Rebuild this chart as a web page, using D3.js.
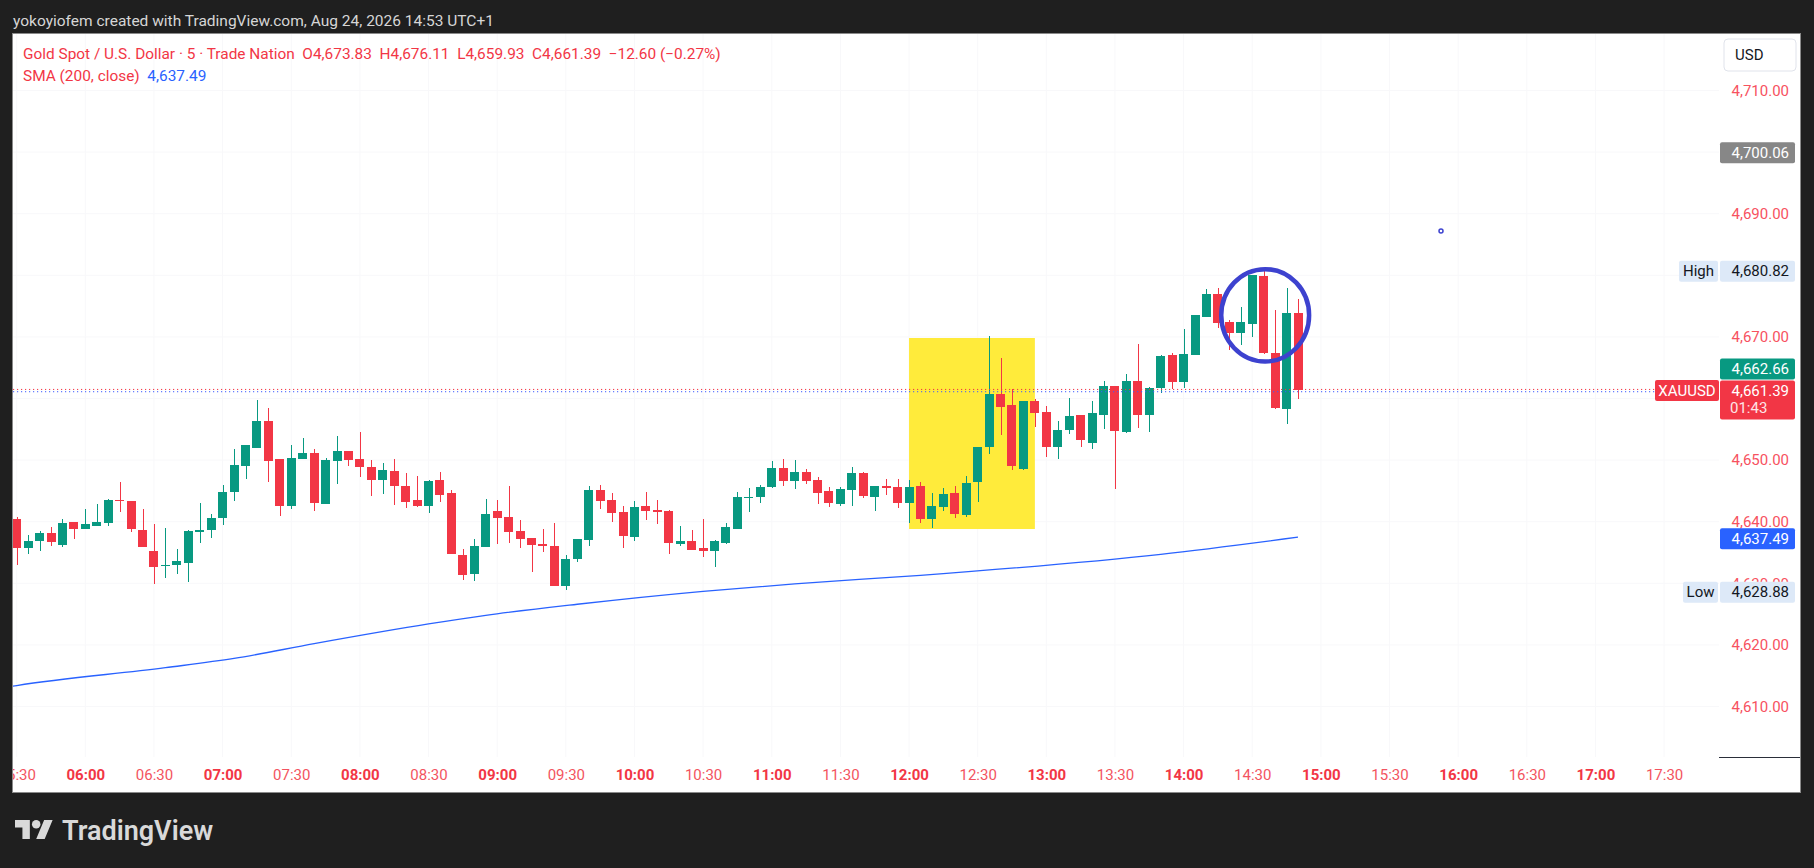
<!DOCTYPE html>
<html>
<head>
<meta charset="utf-8">
<script src="https://cdn.jsdelivr.net/npm/d3@7/dist/d3.min.js"></script>
<style>
  html, body { margin: 0; padding: 0; background: #1f1f1f; }
  svg { display: block; font-family: Roboto, "Noto Sans", sans-serif; }
  .pre { white-space: pre; }
</style>
</head>
<body>
<svg id="chart" width="1814" height="868"></svg>
<script>
/* XAUUSD 5m — TradingView snapshot redrawn with D3 */

const firstCandle = '05:30';           // one candle every 5 minutes
const candleMinutes = 5;

// [open, high, low, close]
const ohlc = [
  [4640.47, 4640.69, 4633.02, 4635.66], [4635.66, 4637.88, 4634.69, 4636.91],
  [4636.80, 4638.53, 4635.18, 4638.20], [4638.20, 4639.18, 4635.99, 4636.64],
  [4636.15, 4640.47, 4635.83, 4639.82], [4639.99, 4639.99, 4637.12, 4638.74],
  [4638.74, 4642.09, 4638.74, 4639.66], [4639.23, 4642.90, 4639.23, 4639.99],
  [4639.72, 4643.71, 4639.23, 4643.55], [4643.55, 4646.47, 4641.50, 4643.28],
  [4643.39, 4643.39, 4638.26, 4638.74], [4638.69, 4642.09, 4635.83, 4635.83],
  [4635.29, 4639.66, 4629.83, 4632.58], [4632.75, 4639.01, 4630.80, 4633.02],
  [4632.91, 4635.61, 4631.45, 4633.66], [4633.23, 4638.69, 4630.15, 4638.53],
  [4638.26, 4643.06, 4636.47, 4638.69], [4638.58, 4641.28, 4637.28, 4640.63],
  [4640.53, 4645.98, 4639.39, 4644.85], [4644.74, 4651.82, 4643.28, 4649.22],
  [4649.12, 4652.47, 4647.01, 4652.47], [4652.03, 4659.76, 4652.03, 4656.35],
  [4656.35, 4658.46, 4646.52, 4649.93], [4650.20, 4650.20, 4640.96, 4642.47],
  [4642.58, 4652.47, 4642.09, 4650.36], [4650.20, 4653.60, 4650.20, 4651.17],
  [4651.17, 4651.82, 4641.77, 4643.06], [4642.90, 4650.36, 4642.90, 4650.03],
  [4649.87, 4653.92, 4646.14, 4651.49], [4651.49, 4651.49, 4649.06, 4650.03],
  [4650.20, 4654.57, 4647.28, 4648.90], [4648.90, 4650.03, 4644.20, 4646.79],
  [4646.79, 4649.55, 4644.52, 4648.41], [4648.25, 4650.20, 4642.74, 4645.82],
  [4645.82, 4647.93, 4642.25, 4643.23], [4643.55, 4647.44, 4642.42, 4642.58],
  [4642.58, 4646.79, 4641.44, 4646.63], [4646.79, 4648.09, 4643.23, 4644.36],
  [4644.69, 4645.17, 4634.80, 4634.80], [4634.64, 4635.61, 4630.59, 4631.40],
  [4631.56, 4637.23, 4630.42, 4636.10], [4635.93, 4643.71, 4635.93, 4641.28],
  [4641.77, 4643.55, 4636.42, 4640.63], [4640.79, 4645.82, 4636.58, 4638.36],
  [4638.53, 4640.31, 4635.77, 4637.23], [4637.39, 4637.39, 4631.88, 4636.15],
  [4636.42, 4638.85, 4635.12, 4635.99], [4636.10, 4639.82, 4629.50, 4629.50],
  [4629.50, 4634.64, 4628.88, 4633.99], [4633.99, 4637.23, 4633.50, 4637.23],
  [4637.07, 4645.82, 4636.10, 4645.17], [4645.17, 4645.98, 4642.09, 4643.39],
  [4643.55, 4644.69, 4639.99, 4641.44], [4641.61, 4642.58, 4635.77, 4637.72],
  [4637.55, 4643.39, 4636.91, 4642.42], [4642.58, 4644.85, 4640.31, 4641.77],
  [4641.93, 4643.55, 4639.66, 4641.61], [4641.77, 4641.93, 4634.80, 4636.58],
  [4636.42, 4639.34, 4636.10, 4636.91], [4636.91, 4638.69, 4635.45, 4635.45],
  [4635.77, 4640.47, 4634.31, 4635.29], [4635.29, 4637.07, 4632.69, 4636.91],
  [4636.58, 4639.82, 4636.42, 4639.18], [4638.85, 4644.85, 4638.85, 4644.04],
  [4643.88, 4645.50, 4641.61, 4644.04], [4644.04, 4645.98, 4643.06, 4645.66],
  [4645.66, 4649.87, 4645.50, 4648.74], [4648.74, 4650.20, 4645.82, 4646.63],
  [4646.67, 4650.02, 4645.37, 4648.07], [4648.07, 4648.56, 4646.18, 4646.67],
  [4646.78, 4647.26, 4642.93, 4644.72], [4644.99, 4645.64, 4642.45, 4643.10],
  [4642.93, 4645.64, 4642.61, 4645.31], [4645.21, 4648.89, 4642.61, 4647.91],
  [4647.91, 4648.07, 4643.91, 4644.23], [4644.07, 4645.80, 4641.80, 4645.80],
  [4645.80, 4646.94, 4644.40, 4645.53], [4645.64, 4646.94, 4642.28, 4643.10],
  [4643.10, 4646.78, 4639.85, 4645.64], [4645.80, 4646.45, 4639.85, 4640.50],
  [4640.50, 4644.67, 4639.04, 4642.56], [4642.45, 4645.48, 4641.80, 4644.50],
  [4644.67, 4645.80, 4640.66, 4641.31], [4641.15, 4647.43, 4640.82, 4646.29],
  [4646.45, 4652.13, 4643.26, 4652.13], [4652.19, 4670.15, 4651.05, 4660.74],
  [4660.74, 4666.58, 4654.14, 4658.68], [4658.95, 4661.55, 4648.45, 4649.10],
  [4648.62, 4659.60, 4648.45, 4659.60], [4659.60, 4659.93, 4655.43, 4657.71],
  [4657.81, 4658.79, 4650.56, 4652.19], [4652.18, 4656.35, 4650.24, 4654.89],
  [4654.89, 4660.08, 4654.29, 4657.16], [4657.32, 4657.32, 4652.18, 4653.27],
  [4652.83, 4659.60, 4651.86, 4657.65], [4657.38, 4662.84, 4655.11, 4662.03],
  [4662.03, 4662.03, 4645.24, 4654.78], [4654.62, 4663.98, 4654.46, 4662.84],
  [4662.84, 4668.85, 4655.27, 4657.38], [4657.38, 4661.87, 4654.62, 4661.71],
  [4661.76, 4667.06, 4660.95, 4666.90], [4667.06, 4667.39, 4661.60, 4662.74],
  [4662.74, 4671.29, 4661.76, 4667.23], [4667.12, 4673.56, 4667.12, 4673.56],
  [4673.29, 4677.78, 4673.29, 4676.97], [4676.97, 4677.94, 4671.50, 4672.31],
  [4672.42, 4672.75, 4667.93, 4670.69], [4670.69, 4674.86, 4668.74, 4672.42],
  [4672.15, 4680.05, 4670.04, 4680.05], [4679.89, 4680.82, 4667.28, 4667.44],
  [4667.39, 4674.37, 4658.35, 4658.51], [4658.35, 4677.94, 4655.92, 4673.88],
  [4673.83, 4676.11, 4659.93, 4661.39]
];

// SMA(200) read at a handful of candles: [candle index, value]
const smaPoints = [
  [-1, 4613.1], [0, 4613.4], [13, 4616.3], [19, 4617.8], [26, 4620.2],
  [36, 4623.4], [41, 4624.8], [49, 4626.6], [60, 4628.7], [68, 4629.9],
  [79, 4631.3], [100, 4634.7], [112, 4637.49]
];

// price scale labels (the ones hidden behind badges are left out)
const priceTicks = [4610, 4620, 4630, 4640, 4650, 4670, 4690, 4710];
const gridPrices = [4610, 4620, 4630, 4640, 4650, 4660, 4670, 4680, 4690, 4700, 4710];
const timeTicks = ['05:30', '06:00', '06:30', '07:00', '07:30', '08:00', '08:30', '09:00',
  '09:30', '10:00', '10:30', '11:00', '11:30', '12:00', '12:30', '13:00', '13:30',
  '14:00', '14:30', '15:00', '15:30', '16:00', '16:30', '17:00', '17:30'];

const symbolTitle = 'Gold Spot / U.S. Dollar · 5 · Trade Nation';
const snapshotCaption = 'yokoyiofem created with TradingView.com, Aug 24, 2026 14:53 UTC+1';
const prevClose = 4673.99;
const smaLast = 4637.49;
const askPrice = 4662.66;
const markerPrice = 4700.06;
const dayHigh = 4680.82;
const dayLow = 4628.88;
const countdown = '01:43';

// drawings on the chart
const boxFrom = '12:00', boxTo = '12:55', boxLow = 4638.81, boxHigh = 4669.82;
const ringTime = '14:35', ringPrice = 4673.5, ringMinutes = 19.2, ringPriceSpan = 7.5;
const dotTime = '15:52:30', dotPrice = 4687.19;

// ---------- layout ----------
const svg = d3.select('#chart');
const plot = { left: 13, right: 1719, top: 34, bottom: 757 };
const frame = { left: 12.5, top: 33.5, right: 1800.5, bottom: 792.5 };
const UP = '#089981', DOWN = '#f23645';

const day = s => {
  const [h, m, sec] = s.split(':').map(Number);
  return new Date(2026, 7, 24, h, m, sec || 0);
};
const addMin = (d, m) => new Date(d.getTime() + m * 60000);
const t0 = day(firstCandle);

const x = d3.scaleTime()
  .domain([day('05:28:23'), day('17:54:00')])
  .range([plot.left, plot.right]);
const y = d3.scaleLinear()
  .domain([4601.80, 4719.17])
  .range([plot.bottom, plot.top]);

const candles = ohlc.map(([o, h, l, c], i) => ({ t: addMin(t0, i * candleMinutes), o, h, l, c }));
const step = x(addMin(t0, candleMinutes)) - x(t0);
const bodyW = Math.round(step * 0.78);
const fmt = d3.format(',.2f');

// white chart frame
svg.append('rect')
  .attr('x', frame.left).attr('y', frame.top)
  .attr('width', frame.right - frame.left).attr('height', frame.bottom - frame.top)
  .attr('fill', '#fff').attr('stroke', '#8a8a8a');

const defs = svg.append('defs');
defs.append('clipPath').attr('id', 'plotClip')
  .append('rect')
  .attr('x', plot.left).attr('y', plot.top)
  .attr('width', plot.right - plot.left).attr('height', plot.bottom - plot.top);
defs.append('clipPath').attr('id', 'timeClip')
  .append('rect').attr('x', plot.left).attr('y', plot.bottom)
  .attr('width', plot.right - plot.left).attr('height', 35);

const g = svg.append('g').attr('clip-path', 'url(#plotClip)');

// faint grid
g.selectAll('line.vgrid').data(timeTicks).enter().append('line')
  .attr('x1', d => x(day(d))).attr('x2', d => x(day(d)))
  .attr('y1', plot.top).attr('y2', plot.bottom)
  .attr('stroke', '#f8f8fa');
g.selectAll('line.hgrid').data(gridPrices).enter().append('line')
  .attr('x1', plot.left).attr('x2', plot.right)
  .attr('y1', d => y(d)).attr('y2', d => y(d))
  .attr('stroke', '#f8f8fa');

// yellow highlight box
g.append('rect')
  .attr('x', x(day(boxFrom))).attr('y', y(boxHigh))
  .attr('width', x(day(boxTo)) - x(day(boxFrom)))
  .attr('height', y(boxLow) - y(boxHigh))
  .attr('fill', '#ffeb3b');

// SMA line
g.append('path')
  .datum(smaPoints)
  .attr('fill', 'none').attr('stroke', '#2962ff').attr('stroke-width', 1.3)
  .attr('d', d3.line()
    .curve(d3.curveMonotoneX)
    .x(d => x(addMin(t0, d[0] * candleMinutes)))
    .y(d => y(d[1])));

// candles
const cg = g.append('g').attr('shape-rendering', 'crispEdges');
const cs = cg.selectAll('g.candle').data(candles).enter().append('g')
  .attr('fill', d => d.c >= d.o ? UP : DOWN);
cs.append('rect')
  .attr('x', d => Math.round(x(d.t)) - 0.5).attr('width', 1)
  .attr('y', d => y(d.h)).attr('height', d => Math.max(1, y(d.l) - y(d.h)));
cs.append('rect')
  .attr('x', d => Math.round(x(d.t) - bodyW / 2))
  .attr('width', bodyW)
  .attr('y', d => y(Math.max(d.o, d.c)))
  .attr('height', d => Math.max(1, Math.abs(y(d.o) - y(d.c))));

// last price dotted lines
const last = candles[candles.length - 1];
const yLast = y(last.c);
g.append('line')
  .attr('x1', plot.left).attr('x2', 1655)
  .attr('y1', yLast - 0.5).attr('y2', yLast - 0.5)
  .attr('stroke', DOWN).attr('stroke-dasharray', '1.2 2.8');
g.append('line')
  .attr('x1', plot.left).attr('x2', 1655)
  .attr('y1', yLast + 1.8).attr('y2', yLast + 1.8)
  .attr('stroke', '#3d5afe').attr('stroke-dasharray', '1.2 2.8');

// circle drawing
g.append('ellipse')
  .attr('cx', x(day(ringTime)) + 1.5).attr('cy', y(ringPrice))
  .attr('rx', x(addMin(day(ringTime), ringMinutes)) - x(day(ringTime)))
  .attr('ry', y(ringPrice - ringPriceSpan) - y(ringPrice))
  .attr('fill', 'none').attr('stroke', '#3d42cf').attr('stroke-width', 4.5);

// small point drawing
g.append('circle')
  .attr('cx', x(day(dotTime))).attr('cy', y(dotPrice)).attr('r', 2)
  .attr('fill', '#fff').attr('stroke', '#3d42cf').attr('stroke-width', 1.5);

// ---------- price axis ----------
const pa = svg.append('g');
pa.selectAll('text.ptick').data(priceTicks).enter().append('text')
  .attr('x', 1789).attr('y', d => y(d))
  .attr('dy', '0.35em').attr('text-anchor', 'end')
  .attr('font-size', 15).attr('fill', '#f7525f')
  .text(d => fmt(d));

function badge(text, bg, fg, cy, h) {
  const top = cy - h / 2;
  pa.append('rect').attr('x', 1720).attr('y', top).attr('width', 75).attr('height', h)
    .attr('rx', 2).attr('fill', bg);
  pa.append('text').attr('x', 1789).attr('y', top + 10.5).attr('dy', '0.35em')
    .attr('text-anchor', 'end').attr('font-size', 15).attr('fill', fg).text(text);
}
function tag(text, x0, x1, cy, bg, fg) {
  pa.append('rect').attr('x', x0).attr('y', cy - 10.5).attr('width', x1 - x0).attr('height', 21)
    .attr('rx', 2).attr('fill', bg);
  pa.append('text').attr('x', (x0 + x1) / 2).attr('y', cy).attr('dy', '0.35em')
    .attr('text-anchor', 'middle').attr('font-size', 15).attr('fill', fg).text(text);
}

badge(fmt(markerPrice), '#878787', '#fff', y(markerPrice) + 1, 21);
tag('High', 1679, 1718, y(dayHigh) + 1, '#dde9f8', '#131722');
badge(fmt(dayHigh), '#dde9f8', '#131722', y(dayHigh) + 1, 21);
tag('Low', 1683, 1718, y(dayLow) + 2, '#dde9f8', '#131722');
badge(fmt(dayLow), '#dde9f8', '#131722', y(dayLow) + 2, 21);
badge(fmt(smaLast), '#2962ff', '#fff', y(smaLast) + 1.5, 21);

// last price + countdown, ask above it
const redTop = yLast - 9.5;
pa.append('rect').attr('x', 1720).attr('y', redTop).attr('width', 75).attr('height', 39)
  .attr('rx', 2).attr('fill', DOWN);
pa.append('text').attr('x', 1789).attr('y', yLast + 0.5).attr('dy', '0.35em')
  .attr('text-anchor', 'end').attr('font-size', 15).attr('fill', '#fff').text(fmt(last.c));
pa.append('text').attr('x', 1730).attr('y', yLast + 18).attr('dy', '0.35em')
  .attr('font-size', 15).attr('fill', '#fde4e6').text(countdown);
badge(fmt(askPrice), UP, '#fff', redTop - 11.5, 21);
tag('XAUUSD', 1655, 1719, yLast + 0.5, DOWN, '#fff');

// USD button
pa.append('rect').attr('x', 1724).attr('y', 39).attr('width', 72).attr('height', 32)
  .attr('rx', 4).attr('fill', '#fff').attr('stroke', '#e0e3eb');
pa.append('text').attr('x', 1735).attr('y', 55).attr('dy', '0.35em')
  .attr('font-size', 15).attr('fill', '#131722').text('USD');

// ---------- time axis ----------
svg.append('line').attr('x1', 1719).attr('x2', 1800).attr('y1', 757.5).attr('y2', 757.5)
  .attr('stroke', '#2a2e39');

const ta = svg.append('g').attr('clip-path', 'url(#timeClip)')
  .append('g')
  .attr('transform', `translate(0,${plot.bottom})`)
  .call(d3.axisBottom(x)
    .tickValues(timeTicks.map(day))
    .tickFormat(d3.timeFormat('%H:%M'))
    .tickSize(0));
ta.select('.domain').remove();
ta.selectAll('text')
  .attr('y', 18).attr('dy', '0.35em')
  .attr('font-family', 'Roboto, "Noto Sans", sans-serif')
  .attr('font-size', 15)
  .attr('fill', '#f23645')
  .attr('font-weight', d => d.getMinutes() === 0 ? 700 : 400)
  .attr('opacity', d => d.getMinutes() === 0 ? 1 : 0.85);

// ---------- header / legend ----------
svg.append('text').attr('x', 13).attr('y', 26)
  .attr('font-size', 15.5).attr('fill', '#d6d6d6').text(snapshotCaption);

const chg = last.c - prevClose;
const legend = svg.append('text').attr('class', 'pre').attr('x', 23).attr('y', 59)
  .attr('font-size', 15.4).attr('fill', DOWN);
legend.text(`${symbolTitle}  O${fmt(last.o)}  H${fmt(last.h)}  L${fmt(last.l)}  C${fmt(last.c)}  ` +
  `${d3.format(',.2f')(chg).replace('-', '−')} (${d3.format('.2%')(chg / prevClose).replace('-', '−')})`);

const sma = svg.append('text').attr('class', 'pre').attr('x', 23).attr('y', 80.5)
  .attr('font-size', 15.4);
sma.append('tspan').attr('fill', DOWN).text('SMA (200, close)  ');
sma.append('tspan').attr('fill', '#2962ff').text(fmt(smaLast));

// ---------- TradingView mark ----------
const logo = svg.append('g').attr('transform', 'translate(15,815.8) scale(1.06)').attr('fill', '#d9d9d9');
logo.append('path').attr('d', 'M14 22H7V11H0V4h14v18zM28 22h-8l7.5-18h8L28 22z');
logo.append('circle').attr('cx', 20).attr('cy', 8).attr('r', 4);
svg.append('text').attr('x', 62).attr('y', 839.5)
  .attr('font-size', 27).attr('font-weight', 600).attr('fill', '#d9d9d9')
  .text('TradingView');
</script>
</body>
</html>
